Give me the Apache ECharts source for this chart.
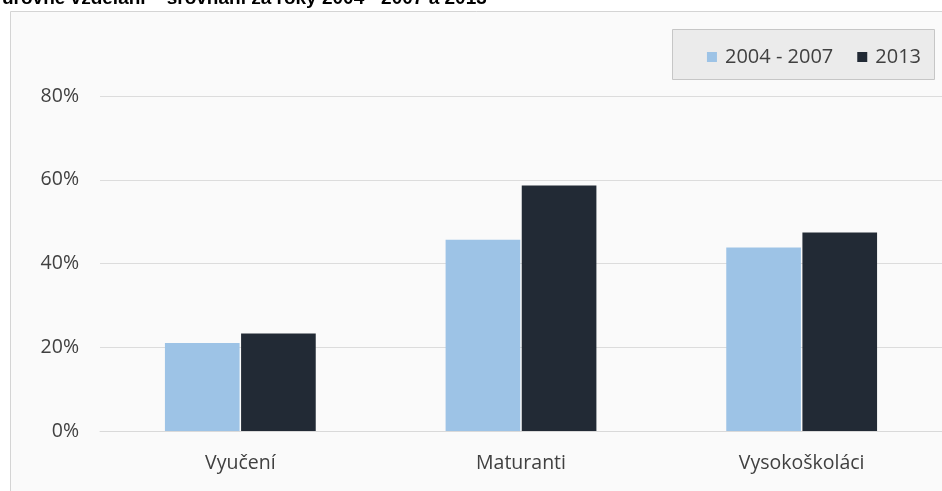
<!DOCTYPE html>
<html>
<head>
<meta charset="utf-8">
<script src="https://cdn.jsdelivr.net/npm/echarts@6/dist/echarts.min.js"></script>
<style>
  html, body { margin: 0; padding: 0; background: #ffffff; }
  #chart { width: 942px; height: 491px; }
</style>
</head>
<body>
<div id="chart"></div>
<script>
// Categories and percentages for each period
const categories = ['Vyučení', 'Maturanti', 'Vysokoškoláci'];
const seriesNames = ['2004 - 2007', '2013'];
const values2004_2007 = [21, 45.7, 43.8];
const values2013 = [23.3, 58.6, 47.4];
const yTicks = [0, 20, 40, 60, 80];

const chart = echarts.init(document.getElementById('chart'), null, { renderer: 'canvas' });

const fontFamily = '"Open Sans", "Noto Sans", sans-serif';

chart.setOption({
  animation: false,
  backgroundColor: '#ffffff',
  title: {
    text: 'úrovně vzdělání – srovnání za roky 2004 - 2007 a 2013',
    left: -3,
    top: -16,
    textStyle: { fontFamily: 'Liberation Sans, Arial, sans-serif', fontWeight: 'bold', fontSize: 19, color: '#000000' }
  },
  graphic: [{
    type: 'rect',
    z: -10,
    shape: { x: 10.5, y: 11.5, width: 940, height: 490 },
    style: { fill: '#fafafa', stroke: '#d4d4d4', lineWidth: 1 }
  }, {
    type: 'rect',
    z: 0,
    shape: { x: 672.5, y: 29.5, width: 262, height: 50 },
    style: { fill: '#ebebeb', stroke: '#c6c6c6', lineWidth: 1 }
  }],
  legend: {
    data: seriesNames,
    right: 16,
    top: 42,
    itemWidth: 10,
    itemHeight: 10,
    itemGap: 24,
    icon: 'rect',
    textStyle: { fontFamily: fontFamily, fontSize: 20, color: '#404040', padding: [0, 0, 0, 3] }
  },
  grid: { left: 100, right: -3, top: 96, bottom: 60, containLabel: false },
  xAxis: {
    type: 'category',
    data: categories,
    axisLine: { show: true, lineStyle: { color: '#d9d9d9', width: 1 } },
    axisTick: { show: false },
    axisLabel: { fontFamily: fontFamily, fontSize: 19.5, color: '#404040', margin: 22 }
  },
  yAxis: {
    type: 'value',
    min: yTicks[0],
    max: yTicks[yTicks.length - 1],
    interval: 20,
    axisLine: { show: false },
    axisTick: { show: false },
    splitLine: { lineStyle: { color: '#dcdcdc', width: 1 } },
    axisLabel: { fontFamily: fontFamily, fontSize: 19.5, color: '#404040', margin: 21, formatter: '{value}%' }
  },
  series: [{
    name: seriesNames[0],
    type: 'bar',
    data: values2004_2007,
    barWidth: '26.6%',
    barGap: '2%',
    itemStyle: { color: '#9dc3e6' }
  }, {
    name: seriesNames[1],
    type: 'bar',
    data: values2013,
    barWidth: '26.6%',
    itemStyle: { color: '#222a35' }
  }]
});
</script>
</body>
</html>
